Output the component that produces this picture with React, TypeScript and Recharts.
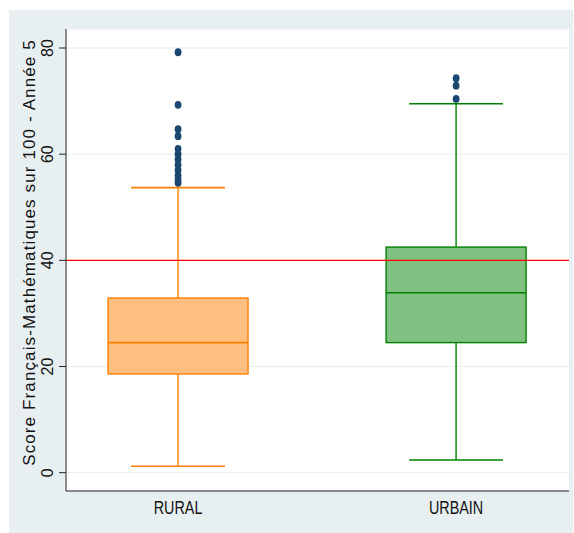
import React from 'react'
import {
  ComposedChart,
  Bar,
  Scatter,
  XAxis,
  YAxis,
  CartesianGrid,
  ReferenceLine
} from 'recharts'

// groups along the x axis
const groups = ['RURAL', 'URBAIN']
const groupPos = [1, 2]

// box statistics
const whiskerLow = [1.2, 2.4]
const quart1 = [18.6, 24.5]
const medians = [24.5, 33.9]
const quart3 = [32.9, 42.5]
const whiskerHigh = [53.7, 69.5]

// outside values
const ruralOutliers = [79.2, 69.3, 64.7, 63.4, 61.0, 60.0, 59.0, 58.0, 57.0, 56.0, 55.2, 54.6]
const urbainOutliers = [74.3, 72.9, 70.4]

const yTicks = [0, 20, 40, 60, 80]
const threshold = 40
const yTitle = 'Score Français-Mathématiques sur 100 - Année 5'

const colors: Record<string, { fill: string; stroke: string }> = {
  RURAL: { fill: '#ffbf80', stroke: '#ff7f00' },
  URBAIN: { fill: '#80c080', stroke: '#008000' }
}

const boxData = groups.map((name, i) => ({
  name,
  pos: groupPos[i],
  range: [whiskerLow[i], whiskerHigh[i]],
  lo: whiskerLow[i],
  q1: quart1[i],
  med: medians[i],
  q3: quart3[i],
  hi: whiskerHigh[i]
}))

const outlierData = [
  ...ruralOutliers.map(v => ({ pos: groupPos[0], v })),
  ...urbainOutliers.map(v => ({ pos: groupPos[1], v }))
]

// draws whiskers + box inside the pixel span the bar gets from the y scale
const BoxShape = (props: any) => {
  const { x, y, width, height, payload } = props
  const { lo, hi, q1, med, q3, name } = payload
  const c = colors[name]
  const py = (v: number) => y + (height * (hi - v)) / (hi - lo)
  const cx = x + width / 2
  const cap = width * 0.335
  return (
    <g>
      <line x1={cx} x2={cx} y1={py(hi)} y2={py(q3)} stroke={c.stroke} strokeWidth={1.4} />
      <line x1={cx} x2={cx} y1={py(q1)} y2={py(lo)} stroke={c.stroke} strokeWidth={1.4} />
      <line x1={cx - cap} x2={cx + cap} y1={py(hi)} y2={py(hi)} stroke={c.stroke} strokeWidth={1.6} />
      <line x1={cx - cap} x2={cx + cap} y1={py(lo)} y2={py(lo)} stroke={c.stroke} strokeWidth={1.6} />
      <rect x={x} y={py(q3)} width={width} height={py(q1) - py(q3)} fill={c.fill} stroke={c.stroke} strokeWidth={1.4} />
      <line x1={x} x2={x + width} y1={py(med)} y2={py(med)} stroke={c.stroke} strokeWidth={1.6} />
    </g>
  )
}

const YTick = ({ x, y, payload }: any) => (
  <text
    x={x}
    y={y}
    transform={`rotate(-90 ${x} ${y})`}
    textAnchor="middle"
    fontSize={16}
    fontFamily="'Liberation Sans', Arial, sans-serif"
    fill="#111"
  >
    {payload.value}
  </text>
)

// the labels are in a narrow face: squeeze a normal sans
const XTick = ({ x, y, payload }: any) => (
  <text
    transform={`translate(${x} ${y + 23}) scale(0.82 1)`}
    textAnchor="middle"
    fontSize={17.5}
    fontFamily="'Liberation Sans', Arial, sans-serif"
    fill="#111"
  >
    {groups[groupPos.indexOf(payload.value)]}
  </text>
)

const YTitle = ({ viewBox }: any) => {
  const cy = viewBox.y + viewBox.height / 2 - 7.5
  const tx = 35
  return (
    <text
      x={tx}
      y={cy}
      transform={`rotate(-90 ${tx} ${cy})`}
      textAnchor="middle"
      fontSize={17}
      letterSpacing={1.12}
      fontFamily="'Liberation Sans', Arial, sans-serif"
      fill="#111"
    >
      {yTitle}
    </text>
  )
}

export default function App() {
  return (
    <div style={{ position: 'absolute', left: 0, top: 0, width: 574, height: 533, background: '#fff' }}>
      <div style={{ position: 'absolute', left: 9, top: 10, width: 564, height: 523, background: '#e8eff1' }} />
      <div style={{ position: 'absolute', left: 0, top: 0 }}>
        <ComposedChart
          width={574}
          height={533}
          data={boxData}
          margin={{ top: 29, right: 5, bottom: 0, left: 0 }}
        >
          <CartesianGrid vertical={false} stroke="#e6eef0" fill="#fff" />
          <XAxis
            type="number"
            dataKey="pos"
            domain={[0.597, 2.406]}
            ticks={groupPos}
            allowDataOverflow
            tickLine={false}
            tickSize={0}
            tickMargin={0}
            height={42}
            axisLine={{ stroke: '#222' }}
            tick={<XTick />}
          />
          <YAxis
            type="number"
            domain={[-3.45, 83.58]}
            ticks={yTicks}
            allowDataOverflow
            width={66}
            tickSize={7}
            tickMargin={6}
            axisLine={{ stroke: '#222' }}
            tickLine={{ stroke: '#222' }}
            tick={<YTick />}
            label={{ value: yTitle, content: (p: any) => <YTitle {...p} /> }}
          />
          <ReferenceLine y={threshold} stroke="#ff0000" strokeWidth={1.4} />
          <Bar dataKey="range" barSize={140} shape={<BoxShape />} isAnimationActive={false} />
          <Scatter
            data={outlierData}
            dataKey="v"
            fill="#1a476f"
            shape={(p: any) => <ellipse cx={p.cx} cy={p.cy} rx={3.4} ry={3.9} fill="#1a476f" />}
            isAnimationActive={false}
          />
        </ComposedChart>
      </div>
    </div>
  )
}
